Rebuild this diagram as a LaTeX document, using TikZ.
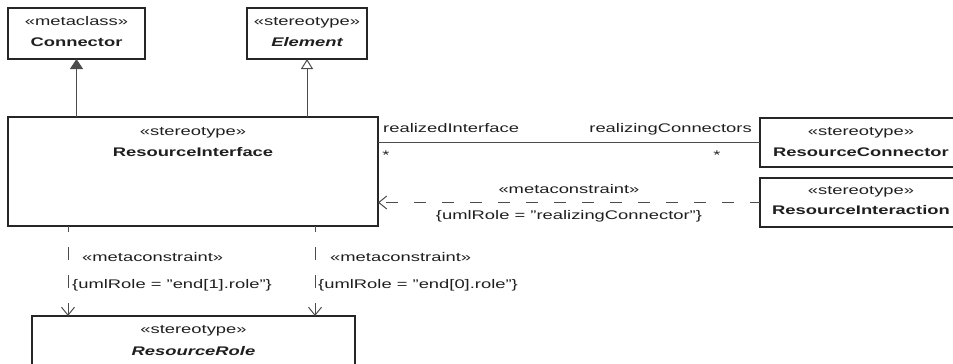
\documentclass[tikz,border=0pt]{standalone}
\usepackage{fontspec}
\setmainfont[FakeStretch=1.47]{Liberation Sans}
\usetikzlibrary{arrows.meta}
\begin{document}
\begin{tikzpicture}[x=1pt,y=-1pt,
  box/.style={draw=black!85, line width=1.3pt, inner sep=0pt, outer sep=0pt, anchor=north west},
  txt/.style={font=\fontsize{12.5}{14}\selectfont, text=black!88, inner sep=0pt, text height=9pt, text depth=2.5pt},
  nm/.style={txt, font=\fontsize{12.5}{14}\selectfont\bfseries},
  nmi/.style={txt, font=\fontsize{12.5}{14}\selectfont\bfseries\itshape},
  conn/.style={draw=black!70, line width=1pt},
  dep/.style={conn, -{Straight Barb[length=8pt,width=13pt]}},
  gen/.style={conn, -{Triangle[length=10pt,width=13pt]}},
  geno/.style={conn, -{Triangle[open,length=10pt,width=12pt,fill=white]}}]
\useasboundingbox (0,0) rectangle (953,364);
\clip (0,0) rectangle (953,364);
% boxes
\node[box, minimum width=137pt, minimum height=51pt] (conn) at (8,8) {};
\node[box, minimum width=120pt, minimum height=51pt] (el) at (247,8) {};
\node[box, minimum width=370pt, minimum height=109pt] (ri) at (8,117) {};
\node[box, minimum width=202pt, minimum height=49pt] (rc) at (760,118) {};
\node[box, minimum width=202pt, minimum height=49pt] (ria) at (760,178) {};
\node[box, minimum width=323pt, minimum height=84pt] (rr) at (32,316) {};
% box texts
\node[txt] (conn-s) at (76.5,22) {«metaclass»};
\node[nm]  (conn-n) at (76.5,43) {Connector};
\node[txt] (el-s) at (307,22) {«stereotype»};
\node[nmi] (el-n) at (307,43) {Element};
\node[txt] (ri-s) at (193,132) {«stereotype»};
\node[nm]  (ri-n) at (193,153) {ResourceInterface};
\node[txt] (rc-s) at (861,132) {«stereotype»};
\node[nm]  (rc-n) at (861,153) {ResourceConnector};
\node[txt] (ria-s) at (861,191) {«stereotype»};
\node[nm]  (ria-n) at (861,211) {ResourceInteraction};
\node[txt] (rr-s) at (193.5,330) {«stereotype»};
\node[nmi] (rr-n) at (193.5,352) {ResourceRole};
% generalizations
\draw[gen] (ri.north -| conn.south) -- (conn.south);
\draw[geno] (ri.north -| el.south) -- (el.south);
% association
\draw[conn] (rc.west -| ri.east) -- (rc.west);
\node[txt, anchor=west] (a1) at (383,129) {realizedInterface};
\node[txt, anchor=east] (a2) at (752,129) {realizingConnectors};
\node[txt] (m1) at (386,156) {*};
\node[txt] (m2) at (717,156) {*};
% dependency horizontal
\draw[dep, dash pattern=on 12pt off 16pt, dash phase=2pt] (ria.west) -- (ria.west -| ri.east);
\node[txt] (h1) at (569,190) {«metaconstraint»};
\node[txt] (h2) at (569,216) {\{umlRole = "realizingConnector"\}};
% dependencies vertical
\coordinate (p1) at (68,0);
\coordinate (p2) at (315,0);
\draw[dep, dash pattern=on 13pt off 15pt, dash phase=7pt] (ri.south -| p1) -- (rr.north -| p1);
\draw[dep, dash pattern=on 13pt off 15pt, dash phase=7pt] (ri.south -| p2) -- (rr.north -| p2);
\node[txt, anchor=west] (v1) at (82,258) {«metaconstraint»};
\node[txt, anchor=west] (v2) at (72,285) {\{umlRole = "end[1].role"\}};
\node[txt, anchor=west] (v3) at (330,258) {«metaconstraint»};
\node[txt, anchor=west] (v4) at (318,285) {\{umlRole = "end[0].role"\}};
\end{tikzpicture}
\end{document}
